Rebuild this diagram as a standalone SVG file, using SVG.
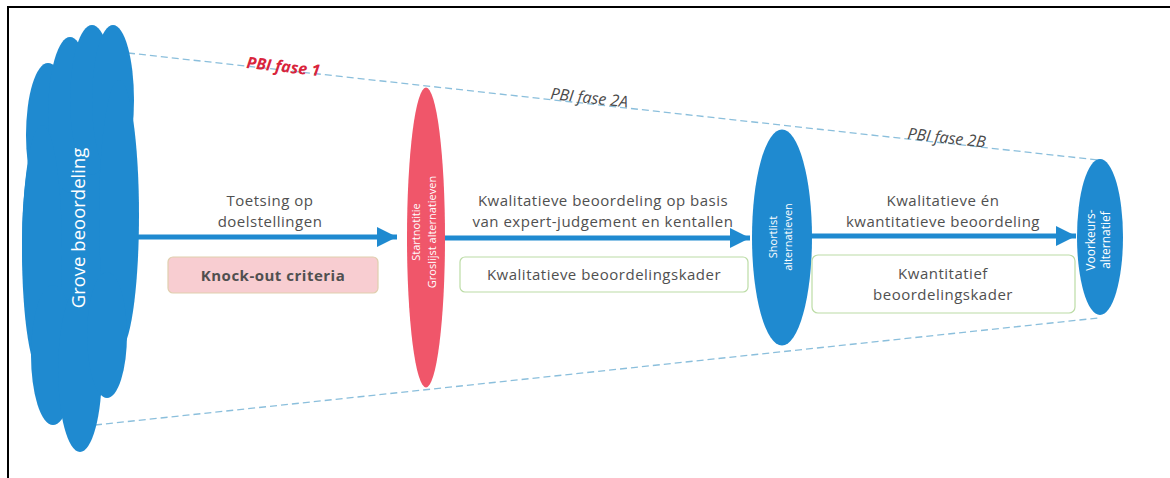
<svg xmlns="http://www.w3.org/2000/svg" width="1170" height="478" viewBox="0 0 1170 478">
<style>
.lbl{font-family:"Open Sans","Liberation Sans",sans-serif;font-size:15px;letter-spacing:0.5px;fill:#505050;text-anchor:middle}
.dash{stroke:#8bbfdc;stroke-width:1.3;stroke-dasharray:7 4;fill:none}
.flow{stroke:#1f8ad0;stroke-width:5;fill:none}
.wt{font-family:"Open Sans","Liberation Sans",sans-serif;fill:#ffffff;text-anchor:middle}
.pbi{font-family:"Open Sans","Liberation Sans",sans-serif;font-size:16px;font-style:italic}
</style>
<defs>
<marker id="ah" markerUnits="userSpaceOnUse" markerWidth="22" markerHeight="22" refX="20" refY="11" orient="auto">
<polygon points="0,1 20,11 0,21" fill="#1f8ad0"/>
</marker>
</defs>
<rect x="0" y="0" width="1170" height="478" fill="#ffffff"/>
<rect x="8" y="7" width="1180" height="490" fill="none" stroke="#000" stroke-width="2"/>

<g id="phases">
<line class="dash" x1="128" y1="53" x2="1098" y2="160"/>
<line class="dash" x1="95" y1="425" x2="1098" y2="318"/>
<text class="pbi" x="246" y="68" fill="#d9243b" font-weight="bold" transform="rotate(6.3 246 68)">PBI fase 1</text>
<text class="pbi" x="550" y="99" fill="#4a4a4a" transform="rotate(6.3 550 99)">PBI fase 2A</text>
<text class="pbi" x="907" y="139" fill="#4a4a4a" transform="rotate(6.3 907 139)">PBI fase 2B</text>
</g>

<g id="connectors">
<line class="flow" x1="138" y1="237" x2="397" y2="237" marker-end="url(#ah)"/>
<line class="flow" x1="444" y1="238" x2="750" y2="238" marker-end="url(#ah)"/>
<line class="flow" x1="811" y1="236" x2="1076" y2="236" marker-end="url(#ah)"/>
</g>

<g id="grove">
<g fill="#1f8ad0">
<ellipse cx="78" cy="240" rx="56" ry="170"/>
<ellipse cx="48" cy="135" rx="22" ry="72"/>
<ellipse cx="70" cy="115" rx="22" ry="78"/>
<ellipse cx="92" cy="100" rx="22" ry="75"/>
<ellipse cx="113" cy="100" rx="21" ry="75"/>
<ellipse cx="119" cy="215" rx="20" ry="135"/>
<ellipse cx="42" cy="250" rx="20" ry="125"/>
<ellipse cx="53" cy="355" rx="22" ry="70"/>
<ellipse cx="80" cy="370" rx="22" ry="82"/>
<ellipse cx="107" cy="335" rx="20" ry="63"/>
</g>
<text class="wt" font-size="18.5" transform="translate(85 228) rotate(-90)">Grove beoordeling</text>
</g>

<g id="knockout">
<rect x="168" y="257" width="210" height="36" rx="5" fill="#f8cdd1" stroke="#e0cfae" stroke-width="1.2"/>
<text class="lbl" x="273" y="281" font-weight="bold" fill="#222">Knock-out criteria</text>
<text class="lbl" x="270" y="206">Toetsing op</text>
<text class="lbl" x="270" y="227">doelstellingen</text>
</g>

<g id="startnotitie">
<ellipse cx="426" cy="237.5" rx="19" ry="150" fill="#f0566a"/>
<text class="wt" font-size="11" transform="translate(420 232) rotate(-90)">Startnotitie</text>
<text class="wt" font-size="11" transform="translate(436 232) rotate(-90)">Groslijst alternatieven</text>
</g>

<g id="kwalitatief">
<text class="lbl" x="603" y="206">Kwalitatieve beoordeling op basis</text>
<text class="lbl" x="603" y="227">van expert-judgement  en kentallen</text>
<rect x="460" y="257" width="288" height="35" rx="5" fill="#fff" stroke="#bcdca6" stroke-width="1.2"/>
<text class="lbl" x="604" y="280">Kwalitatieve beoordelingskader</text>
</g>

<g id="shortlist">
<ellipse cx="782" cy="237.5" rx="30" ry="108" fill="#1f8ad0"/>
<text class="wt" font-size="11" transform="translate(777 237) rotate(-90)">Shortlist</text>
<text class="wt" font-size="11" transform="translate(792 237) rotate(-90)">alternatieven</text>
</g>

<g id="kwantitatief">
<text class="lbl" x="943" y="206">Kwalitatieve én</text>
<text class="lbl" x="943" y="227">kwantitatieve beoordeling</text>
<rect x="812" y="255" width="263" height="58" rx="6" fill="#fff" stroke="#bcdca6" stroke-width="1.2"/>
<text class="lbl" x="943" y="279">Kwantitatief</text>
<text class="lbl" x="943" y="300">beoordelingskader</text>
</g>

<g id="voorkeur">
<ellipse cx="1100" cy="237" rx="23" ry="78" fill="#1f8ad0"/>
<text class="wt" font-size="12" transform="translate(1095 240) rotate(-90)">Voorkeurs-</text>
<text class="wt" font-size="12" transform="translate(1110 240) rotate(-90)">alternatief</text>
</g>
</svg>
